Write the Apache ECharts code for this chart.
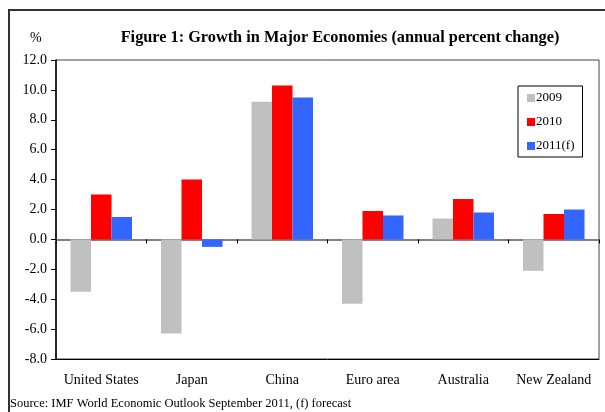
<!DOCTYPE html>
<html>
<head>
<meta charset="utf-8">
<script src="https://cdn.jsdelivr.net/npm/echarts@6/dist/echarts.min.js"></script>
<style>
html,body{margin:0;padding:0;background:#fff;}
#chart{width:605px;height:412px;}
</style>
</head>
<body>
<div id="chart"></div>
<script>
const categories = ['United States', 'Japan', 'China', 'Euro area', 'Australia', 'New Zealand'];
const seriesNames = ['2009', '2010', '2011(f)'];
const values2009 = [-3.5, -6.3, 9.2, -4.3, 1.4, -2.1];
const values2010 = [3.0, 4.0, 10.3, 1.9, 2.7, 1.7];
const values2011 = [1.5, -0.5, 9.5, 1.6, 1.8, 2.0];
const yMin = -8, yMax = 12, yStep = 2;
const titleText = 'Figure 1: Growth in Major Economies (annual percent change)';
const unitText = '%';
const sourceText = 'Source: IMF World Economic Outlook September 2011, (f) forecast';

const colors = ['#C0C0C0', '#FF0000', '#3366FF'];
const font = '"Liberation Serif", "Times New Roman", serif';

const chart = echarts.init(document.getElementById('chart'), null, {renderer: 'canvas'});
const allValues = [values2009, values2010, values2011];

chart.setOption({
  animation: false,
  textStyle: {fontFamily: font},
  title: {
    text: titleText,
    left: 335, top: 25, textAlign: 'center',
    textStyle: {fontFamily: font, fontSize: 16.3, fontWeight: 'bold', color: '#000'}
  },
  legend: {
    data: seriesNames,
    orient: 'vertical',
    left: 518, top: 86,
    padding: [5, 8, 4, 9],
    itemWidth: 8, itemHeight: 8,
    itemGap: 10,
    borderColor: '#000', borderWidth: 1,
    backgroundColor: '#fff',
    icon: 'rect',
    textStyle: {fontFamily: font, fontSize: 13, color: '#000', padding: [0, 0, 0, -4], lineHeight: 14}
  },
  graphic: [
    {type: 'rect', shape: {x: 9, y: 10, width: 700, height: 500}, style: {fill: null, stroke: '#333', lineWidth: 2}, z: -10, silent: true},
    {type: 'text', left: 30, top: 31, style: {text: unitText, font: '14px ' + font, fill: '#000'}},
    {type: 'text', left: 10, top: 397, style: {text: sourceText, font: '12.5px ' + font, fill: '#000'}}
  ],
  grid: {left: 56, top: 60, right: 6, bottom: 53, show: true, borderColor: '#444', borderWidth: 1, backgroundColor: '#fff'},
  xAxis: [
    {
      type: 'category', data: categories, position: 'bottom',
      axisLine: {show: true, onZero: false, lineStyle: {color: '#000', width: 1}},
      axisTick: {show: false},
      axisLabel: {fontFamily: font, fontSize: 14, color: '#000', margin: 14, interval: 0}
    },
    {
      type: 'category', data: categories, position: 'bottom',
      axisLine: {show: true, onZero: true, lineStyle: {color: '#808080', width: 2}},
      axisTick: {show: true, length: 4, lineStyle: {color: '#000', width: 1}},
      axisLabel: {show: false}
    }
  ],
  yAxis: {
    type: 'value', min: yMin, max: yMax, interval: yStep,
    axisLine: {show: true, lineStyle: {color: '#000', width: 1.5}},
    axisTick: {show: true, length: 5, lineStyle: {color: '#000'}},
    splitLine: {show: false},
    axisLabel: {fontFamily: font, fontSize: 14, color: '#000', margin: 9, formatter: v => v.toFixed(1)}
  },
  series: seriesNames.map((name, i) => ({
    name: name, type: 'bar', xAxisIndex: 0,
    data: allValues[i],
    barWidth: 20.5, barGap: '0%',
    itemStyle: {color: colors[i]}
  }))
});
</script>
</body>
</html>
